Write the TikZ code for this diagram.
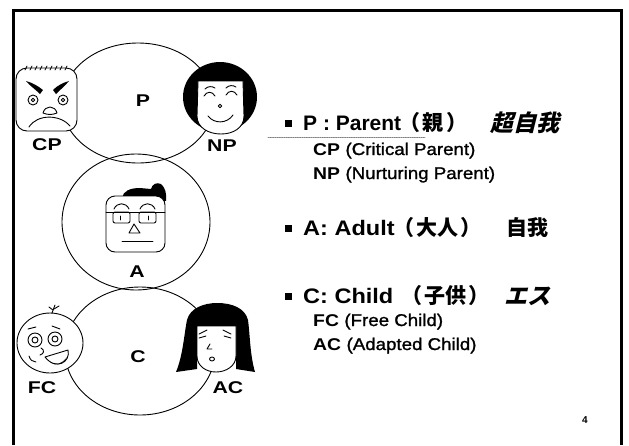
\documentclass[tikz,border=0pt]{standalone}
\usepackage{fontspec}
\setmainfont{Liberation Sans}
\newfontfamily\hdfont{Liberation Sans Bold}
\newfontfamily\hdwide[FakeStretch=1.12]{Liberation Sans Bold}
\newfontfamily\subbold[FakeStretch=1.14]{Liberation Sans Bold}
\newfontfamily\subparen[FakeStretch=1.1, FakeBold=1.3]{Liberation Sans}
\newfontfamily\lblfont[FakeStretch=1.25]{Liberation Sans Bold}
\newfontfamily\jpfont{Noto Sans CJK JP}
\newfontfamily\jpslant[FakeSlant=0.25]{Noto Sans CJK JP}
\usetikzlibrary{shapes.geometric}

\begin{document}
\begin{tikzpicture}[x=1pt, y=-1pt, line join=round, line cap=round,
  ring/.style={ellipse, draw=black, line width=0.9pt, inner sep=0pt},
  stroke/.style={draw=black, line width=0.9pt},
  face/.style={draw=black, line width=0.9pt, fill=white},
  lbl/.style={font=\lblfont\fontsize{17}{17}\selectfont, inner sep=0pt},
  bul/.style={rectangle, fill=black, minimum size=7pt, inner sep=0pt},
  hdr/.style={anchor=base west, inner sep=0pt, font=\hdfont\fontsize{21}{24}\selectfont},
  hdrw/.style={anchor=base west, inner sep=0pt, font=\hdwide\fontsize{21}{24}\selectfont},
  jp/.style={anchor=base west, inner sep=0pt, font=\jpfont\bfseries\fontsize{21}{24}\selectfont},
  jpit/.style={anchor=base west, inner sep=0pt, font=\jpslant\bfseries\fontsize{23}{24}\selectfont},
  sub/.style={anchor=base west, inner sep=0pt, font=\subbold\fontsize{17}{20}\selectfont},
  pg/.style={inner sep=0pt, font=\hdfont\fontsize{10}{10}\selectfont}]
\useasboundingbox (0,0) rectangle (629,445);

% slide frame, open at the bottom
\draw[line width=3pt, line cap=butt, line join=miter] (13,445) -- (13,10) -- (621,10) -- (621,445);

% the three ego-state rings
\node[ring, minimum width=152pt, minimum height=120pt] (pring) at (138,103) {};
\node[ring, minimum width=148pt, minimum height=136pt] (aring) at (136,222) {};
\node[ring, minimum width=150pt, minimum height=128pt] (cring) at (140,351) {};

% ---- CP: stern square face
\draw[face, rounded corners=11pt] (16,68) rectangle (77,131);
\foreach \x in {25,30,...,65} \draw[stroke, line width=0.7pt] (\x,70) -- (\x+2,66);
\fill (26,81) .. controls (33,83) and (38,86) .. (43,90) -- (40,94) .. controls (35,89) and (30,86) .. cycle;
\fill (69,81) .. controls (62,83) and (57,86) .. (53,90) -- (56,94) .. controls (61,89) and (65,86) .. cycle;
\draw[stroke] (33,100) circle (5);  \draw[stroke] (33,100) circle (1.8);
\draw[stroke] (63,100) circle (5);  \draw[stroke] (63,100) circle (1.8);
\draw[stroke] (43,113) .. controls (45,105) and (55,105) .. (57,113) .. controls (52,115) and (48,115) .. cycle;
\draw[stroke] (29,127) .. controls (37,114) and (60,114) .. (70,126);

% ---- NP: smiling face with a bob
\fill (220,97) ellipse [x radius=37, y radius=35];
\draw[face] (198,81) -- (243,81) -- (244,116) .. controls (244,128) and (233,134) .. (221,134) .. controls (209,134) and (197,128) .. (197,116) -- cycle;
\draw[stroke] (205,89) .. controls (208,86) and (212,86) .. (215,88);
\draw[stroke] (226,88) .. controls (229,85) and (233,85) .. (236,87);
\draw[stroke] (204,96) .. controls (207,91) and (212,91) .. (215,96);
\draw[stroke] (226,95) .. controls (229,90) and (234,90) .. (237,95);
\draw[stroke] (220,106) circle (1.8);
\draw[stroke] (208,116) .. controls (214,124) and (227,124) .. (233,115);

% ---- A: square face with glasses
\fill (122,198) .. controls (123,191) and (130,188) .. (140,188) -- (151,189) .. controls (152,184) and (157,182) .. (161,184) .. controls (165,187) and (167,194) .. (166,201) -- cycle;
\draw[face, rounded corners=9pt] (106,196) rectangle (165,252);
\draw[stroke] (106,212) -- (165,212);
\draw[stroke, rounded corners=2pt] (113,212) rectangle (130,223);
\draw[stroke, rounded corners=2pt] (139,212) rectangle (156,223);
\draw[stroke] (114,209) .. controls (117,202) and (126,202) .. (129,209);
\draw[stroke] (140,209) .. controls (143,202) and (152,202) .. (155,209);
\draw[stroke] (120,216) -- (120,220);  \draw[stroke] (148,216) -- (148,220);
\draw[stroke] (134,224) -- (129,233) -- (140,233) -- cycle;
\draw[stroke] (122,241) -- (153,241);

% ---- FC: laughing round face
\draw[face] (50,343) ellipse [x radius=33, y radius=30];
\draw[stroke] (52,313) -- (55,305);
\draw[stroke] (54,309) -- (59,306);
\draw[stroke] (53,310) -- (49,307);
\draw[stroke] (35,340) circle (7);  \draw[stroke] (35,340) circle (3);
\draw[stroke] (55,339) circle (7);  \draw[stroke] (55,339) circle (3);
\draw[stroke] (28,329) -- (36,327);  \draw[stroke] (52,326) -- (60,329);
\draw[stroke] (41,348) .. controls (45,350) and (44,354) .. (40,355);
\draw[stroke] (45,357) -- (68,350) .. controls (71,362) and (56,371) .. cycle;
\fill (50,362) .. controls (56,367) and (64,364) .. (67,357) .. controls (62,364) and (56,366) .. cycle;
\draw[stroke] (29,356) .. controls (30,360) and (33,362) .. (36,362);

% ---- AC: worried face with long hair
\fill (176,372) .. controls (183,355) and (184,335) .. (187,320) .. controls (190,308) and (204,303) .. (217,303) .. controls (232,303) and (245,308) .. (248,320) .. controls (250,335) and (250,355) .. (255,372) -- (236,369) -- (236,326) -- (197,326) -- (197,369) -- cycle;
\draw[face] (197,326) -- (236,326) -- (236,356) .. controls (236,366) and (226,372) .. (216,372) .. controls (206,372) and (197,366) .. (197,356) -- cycle;
\draw[stroke] (199,334) -- (207,330);  \draw[stroke] (199,338) -- (206,336);
\draw[stroke] (223,330) -- (231,334);  \draw[stroke] (224,336) -- (231,338);
\draw[stroke] (210,344) -- (207,349) -- (212,349);
\draw[stroke] (212,359) ellipse [x radius=2.5, y radius=2];

% ring and face labels
\node[lbl] (lp)  at (143,101) {P};
\node[lbl] (lcp) at (47,145)  {CP};
\node[lbl] (lnp) at (222,146) {NP};
\node[lbl] (la)  at (137,272) {A};
\node[lbl] (lc)  at (138,357) {C};
\node[lbl] (lfc) at (42,388)  {FC};
\node[lbl] (lac) at (228,388) {AC};

% explanatory list
\node[bul] (b1) at (288.5,123.5) {};
\node[hdr]  (h1)  at (303,130.5) {P : Parent};
\node[jp]   (h1j) at (399,130.5) {（\kern2pt 親\kern3pt）};
\node[jpit] (h1k) at (490,131) {超自我};
\coordinate (u1) at (268,137);
\coordinate (u2) at (425,137);
\draw[gray, densely dotted, line width=0.8pt] (u1) -- (u2);
\node[sub] (s1) at (313,155) {CP {\subparen(Critical Parent)}};
\node[sub] (s2) at (313,179) {NP {\subparen(Nurturing Parent)}};

\node[bul] (b2) at (288.5,228.5) {};
\node[hdrw] (h2)  at (303,235.5) {A: Adult};
\node[jp]   (h2j) at (393,235.5) {（\kern2pt 大人\kern2pt）};
\node[jp]   (h2k) at (506,235.5) {自我};

\node[bul] (b3) at (288.5,296.5) {};
\node[hdrw] (h3)  at (303,303.5) {C: Child};
\node[jp]   (h3j) at (401,303.5) {（\kern2pt 子供\kern2pt）};
\node[jpit] (h3k) at (504,304) {エス};
\node[sub] (s3) at (313,326) {FC {\subparen(Free Child)}};
\node[sub] (s4) at (313,350) {AC {\subparen(Adapted Child)}};

\node[pg] (pg) at (585,420) {4};
\end{tikzpicture}
\end{document}
